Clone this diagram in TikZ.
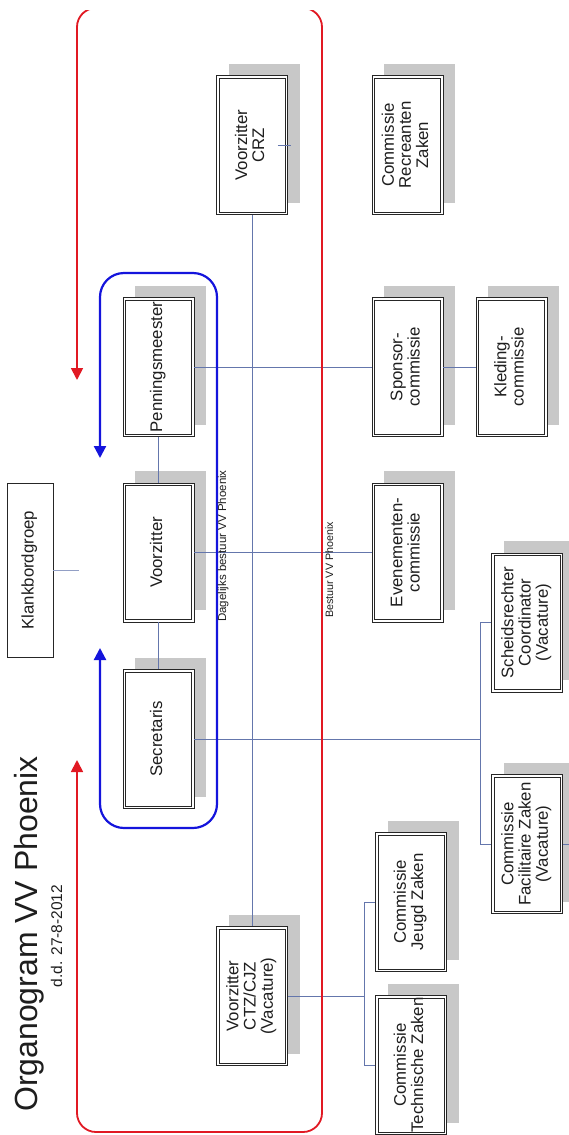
\documentclass[tikz,border=0pt]{standalone}
\usepackage{fontspec}
\setmainfont{Liberation Sans}
\usepackage{graphicx}
\usetikzlibrary{shadows,arrows.meta,calc}
\definecolor{conncol}{RGB}{100,118,172}
\definecolor{loopred}{RGB}{225,25,35}
\definecolor{loopblue}{RGB}{20,20,220}
\definecolor{shadecol}{RGB}{200,200,200}
\definecolor{txtcol}{RGB}{30,30,30}
\newcommand{\rtxt}[1]{\rotatebox{90}{\begin{tabular}{@{}c@{}}#1\end{tabular}}}
\begin{document}
\begin{tikzpicture}[x=1pt,y=-1pt,
  orgbox/.style={draw=black!85, line width=0.8pt,
    fill=white, minimum width=71pt, minimum height=139pt, inner sep=0pt,
    font=\fontsize{16.8}{17}\selectfont, text=txtcol,
    drop shadow={shadow xshift=12pt,shadow yshift=12pt,fill=shadecol,opacity=1},
    path picture={\draw[black!85, line width=0.8pt]
      ([shift={(2.6pt,2.6pt)}]path picture bounding box.south west) rectangle
      ([shift={(-2.6pt,-2.6pt)}]path picture bounding box.north east);}},
  plainbox/.style={draw=black!85, line width=0.8pt, minimum width=46pt, minimum height=174pt,
    inner sep=0pt, font=\fontsize{16.8}{17}\selectfont, text=txtcol},
  link/.style={draw=conncol, line width=0.7pt},
  redloop/.style={draw=loopred, line width=1.8pt, rounded corners=19pt,
    {Triangle[width=12pt,length=12pt]}-{Triangle[width=12pt,length=12pt]}},
  blueloop/.style={draw=loopblue, line width=2.2pt, rounded corners=24pt,
    {Triangle[width=12pt,length=12pt]}-{Triangle[width=12pt,length=12pt]}},
  lbl/.style={rotate=90, anchor=base, inner sep=0pt, text=txtcol}
]
\useasboundingbox (0,0) rectangle (568,1135);
\fill[white] (0,0) rectangle (568,1135);

% titles
\node[lbl, font=\fontsize{32}{32}\selectfont] (title) at (37,934) {Organogram VV Phoenix};
\node[lbl, font=\fontsize{15.5}{16}\selectfont] (date) at (62,936) {d.d. 27-8-2012};

% boxes
\node[plainbox] (kb) at (30,570) {\rtxt{Klankbordgroep}};
\node[orgbox] (pm)  at (158.5,367)   {\rtxt{Penningsmeester}};
\node[orgbox] (vz)  at (158.5,552.5) {\rtxt{Voorzitter}};
\node[orgbox] (sec) at (158.5,739)   {\rtxt{Secretaris}};
\node[orgbox] (crz) at (252,145)     {\rtxt{Voorzitter\\CRZ}};
\node[orgbox] (ctz) at (252,996)     {\rtxt{Voorzitter\\CTZ/CJZ\\(Vacature)}};
\node[orgbox] (rec) at (407.5,145)   {\rtxt{Commissie\\Recreanten\\Zaken}};
\node[orgbox] (spo) at (407.5,367)   {\rtxt{Sponsor-\\commissie}};
\node[orgbox] (kle) at (511.5,367)   {\rtxt{Kleding-\\commissie}};
\node[orgbox] (eve) at (407.5,552.5) {\rtxt{Evenementen-\\commissie}};
\node[orgbox] (sch) at (527,622.5)   {\rtxt{Scheidsrechter\\Coordinator\\(Vacature)}};
\node[orgbox] (fac) at (527,844)     {\rtxt{Commissie\\Facilitaire Zaken\\(Vacature)}};
\node[orgbox] (jeu) at (411,902)     {\rtxt{Commissie\\Jeugd Zaken}};
\node[orgbox] (tec) at (411,1065)    {\rtxt{Commissie\\Technische Zaken}};

% connectors
\coordinate (kbend) at (79,570);
\draw[link, draw=conncol!70] (kb.east) -- (kbend);
\draw[link] (pm.south) -- (vz.north);
\draw[link] (vz.south) -- (sec.north);
\draw[link] (pm.east) -- (spo.west);
\draw[link] (spo.east) -- (kle.west);
\draw[link] (vz.east) -- (eve.west);
\draw[link] (crz.south) -- (ctz.north);
\coordinate (b1) at (480,622.5);
\coordinate (b2) at (480,844);
\draw[link] (sec.east) -- (sec.east -| b1);
\draw[link] (sch.west) -- (b1) -- (b2) -- (fac.west);
\draw[link] ([xshift=-10pt]crz.east) -- ([xshift=3pt]crz.east);
\draw[link] (fac.east) -- ++(6,0);
\coordinate (c1) at (364,902);
\coordinate (c2) at (364,1065);
\draw[link] (ctz.east) -- (ctz.east -| c1);
\draw[link] (jeu.west) -- (c1) -- (c2) -- (tec.west);

% loops
\draw[blueloop] (100,458) -- (100,273) -- (217,273) -- (217,828) -- (100,828) -- (100,648);
\begin{scope}
\clip (0,10.5) rectangle (568,1135);
\draw[redloop] (77,380) -- (77,8) -- (322,8) -- (322,1132) -- (77,1132) -- (77,760);
\end{scope}

\node[lbl, font=\fontsize{11.5}{12}\selectfont] (dbl) at (226,546) {Dagelijks bestuur VV Phoenix};
\node[lbl, font=\fontsize{10.7}{11}\selectfont] (bl) at (333,570) {Bestuur VV Phoenix};
\end{tikzpicture}
\end{document}
